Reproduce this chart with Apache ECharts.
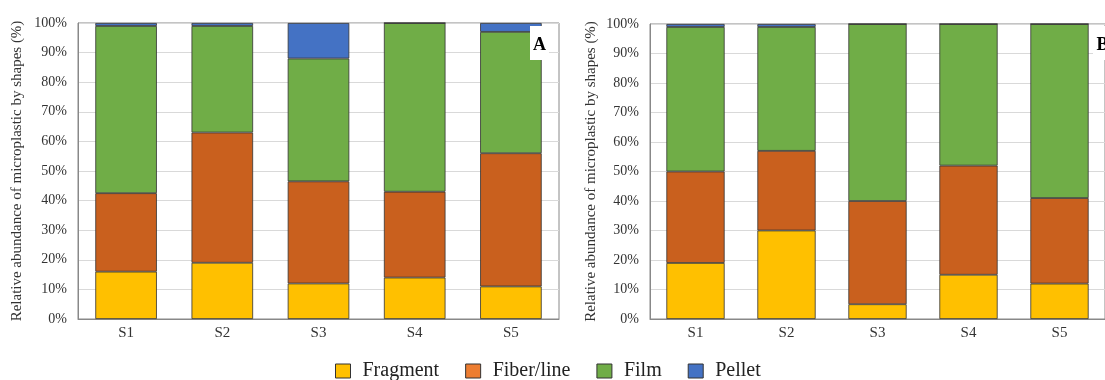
<!DOCTYPE html>
<html><head><meta charset="utf-8">
<script src="https://cdn.jsdelivr.net/npm/echarts@6/dist/echarts.min.js"></script>
<style>html,body{margin:0;padding:0;background:#fff}#c{width:1105px;height:380px}</style>
</head><body><div id="c"></div>
<script>
const categories = ['S1','S2','S3','S4','S5'];
const yTicks = [0,10,20,30,40,50,60,70,80,90,100];
const seriesNames = ['Fragment','Fiber/line','Film','Pellet'];
// Panel A
const aFragment = [16, 19, 12, 14, 11];
const aFiber    = [26.5, 44, 34.5, 29, 45];
const aFilm     = [56.5, 36, 41.5, 57, 41];
const aPellet   = [1, 1, 12, 0, 3];
// Panel B
const bFragment = [19, 30, 5, 15, 12];
const bFiber    = [31, 27, 35, 37, 29];
const bFilm     = [49, 42, 60, 48, 59];
const bPellet   = [1, 1, 0, 0, 0];

const barColors = ['#FFC000', '#C9601E', '#70AD47', '#4472C4'];
const legendColors = ['#FFC000', '#ED7D31', '#70AD47', '#4472C4'];
const serif = 'Liberation Serif';

const chart = echarts.init(document.getElementById('c'));
const yAxisBase = (gi, nameGap) => ({
  gridIndex: gi, type: 'value', min: 0, max: 100, interval: 10,
  name: 'Relative abundance of microplastic by shapes (%)',
  nameLocation: 'middle', nameGap: nameGap,
  nameTextStyle: {fontFamily: serif, fontSize: 15, color: '#333'},
  axisLabel: {formatter: '{value}%', fontFamily: serif, fontSize: 14, color: '#333', margin: 11},
  axisLine: {show: true, lineStyle: {color: '#888'}},
  axisTick: {show: false},
  splitLine: {show: true, lineStyle: {color: '#d9d9d9'}}
});
const xAxisBase = (gi) => ({
  gridIndex: gi, type: 'category', data: categories,
  axisLabel: {fontFamily: serif, fontSize: 15, color: '#333', margin: 7},
  axisLine: {show: true, lineStyle: {color: '#888'}},
  axisTick: {show: false}
});
const mk = (name, data, i, gi, stack) => ({
  name, type: 'bar', stack, xAxisIndex: gi, yAxisIndex: gi, data,
  barWidth: '64%',
  itemStyle: {color: barColors[i], borderColor: '#333', borderWidth: 0.8},
  emphasis: {disabled: true}
});
const aData = [aFragment, aFiber, aFilm, aPellet];
const bData = [bFragment, bFiber, bFilm, bPellet];
const series = [];
seriesNames.forEach((n, i) => series.push(mk(n, aData[i], i, 0, 'a')));
seriesNames.forEach((n, i) => series.push(mk(n, bData[i], i, 1, 'b')));

chart.setOption({
  animation: false,
  backgroundColor: '#fff',
  grid: [
    {left: 78, top: 23, width: 481, height: 296, show: true, borderColor: '#888', borderWidth: 1},
    {left: 650, top: 24, width: 468, height: 295, show: true, borderColor: '#888', borderWidth: 1}
  ],
  xAxis: [xAxisBase(0), xAxisBase(1)],
  yAxis: [yAxisBase(0, 53), yAxisBase(1, 51)],
  legend: {
    left: 335, top: 361, itemWidth: 15, itemHeight: 14, itemGap: 26, icon: 'rect', padding: 0,
    textStyle: {fontFamily: serif, fontSize: 20, color: '#222', lineHeight: 20, padding: [0, 0, 0, 7]},
    data: seriesNames.map((n, i) => ({name: n, itemStyle: {color: legendColors[i], borderColor: '#333', borderWidth: 1}}))
  },
  graphic: [
    {type: 'rect', shape: {x: 530, y: 26, width: 19, height: 34}, style: {fill: '#fff'}, z: 100},
    {type: 'text', x: 539.5, y: 45, style: {text: 'A', font: 'bold 18px "Liberation Serif"', fill: '#000', textAlign: 'center', textVerticalAlign: 'middle'}, z: 101},
    {type: 'rect', shape: {x: 1093, y: 26, width: 19, height: 34}, style: {fill: '#fff'}, z: 100},
    {type: 'text', x: 1102.5, y: 45, style: {text: 'B', font: 'bold 18px "Liberation Serif"', fill: '#000', textAlign: 'center', textVerticalAlign: 'middle'}, z: 101}
  ],
  series
});
</script></body></html>
